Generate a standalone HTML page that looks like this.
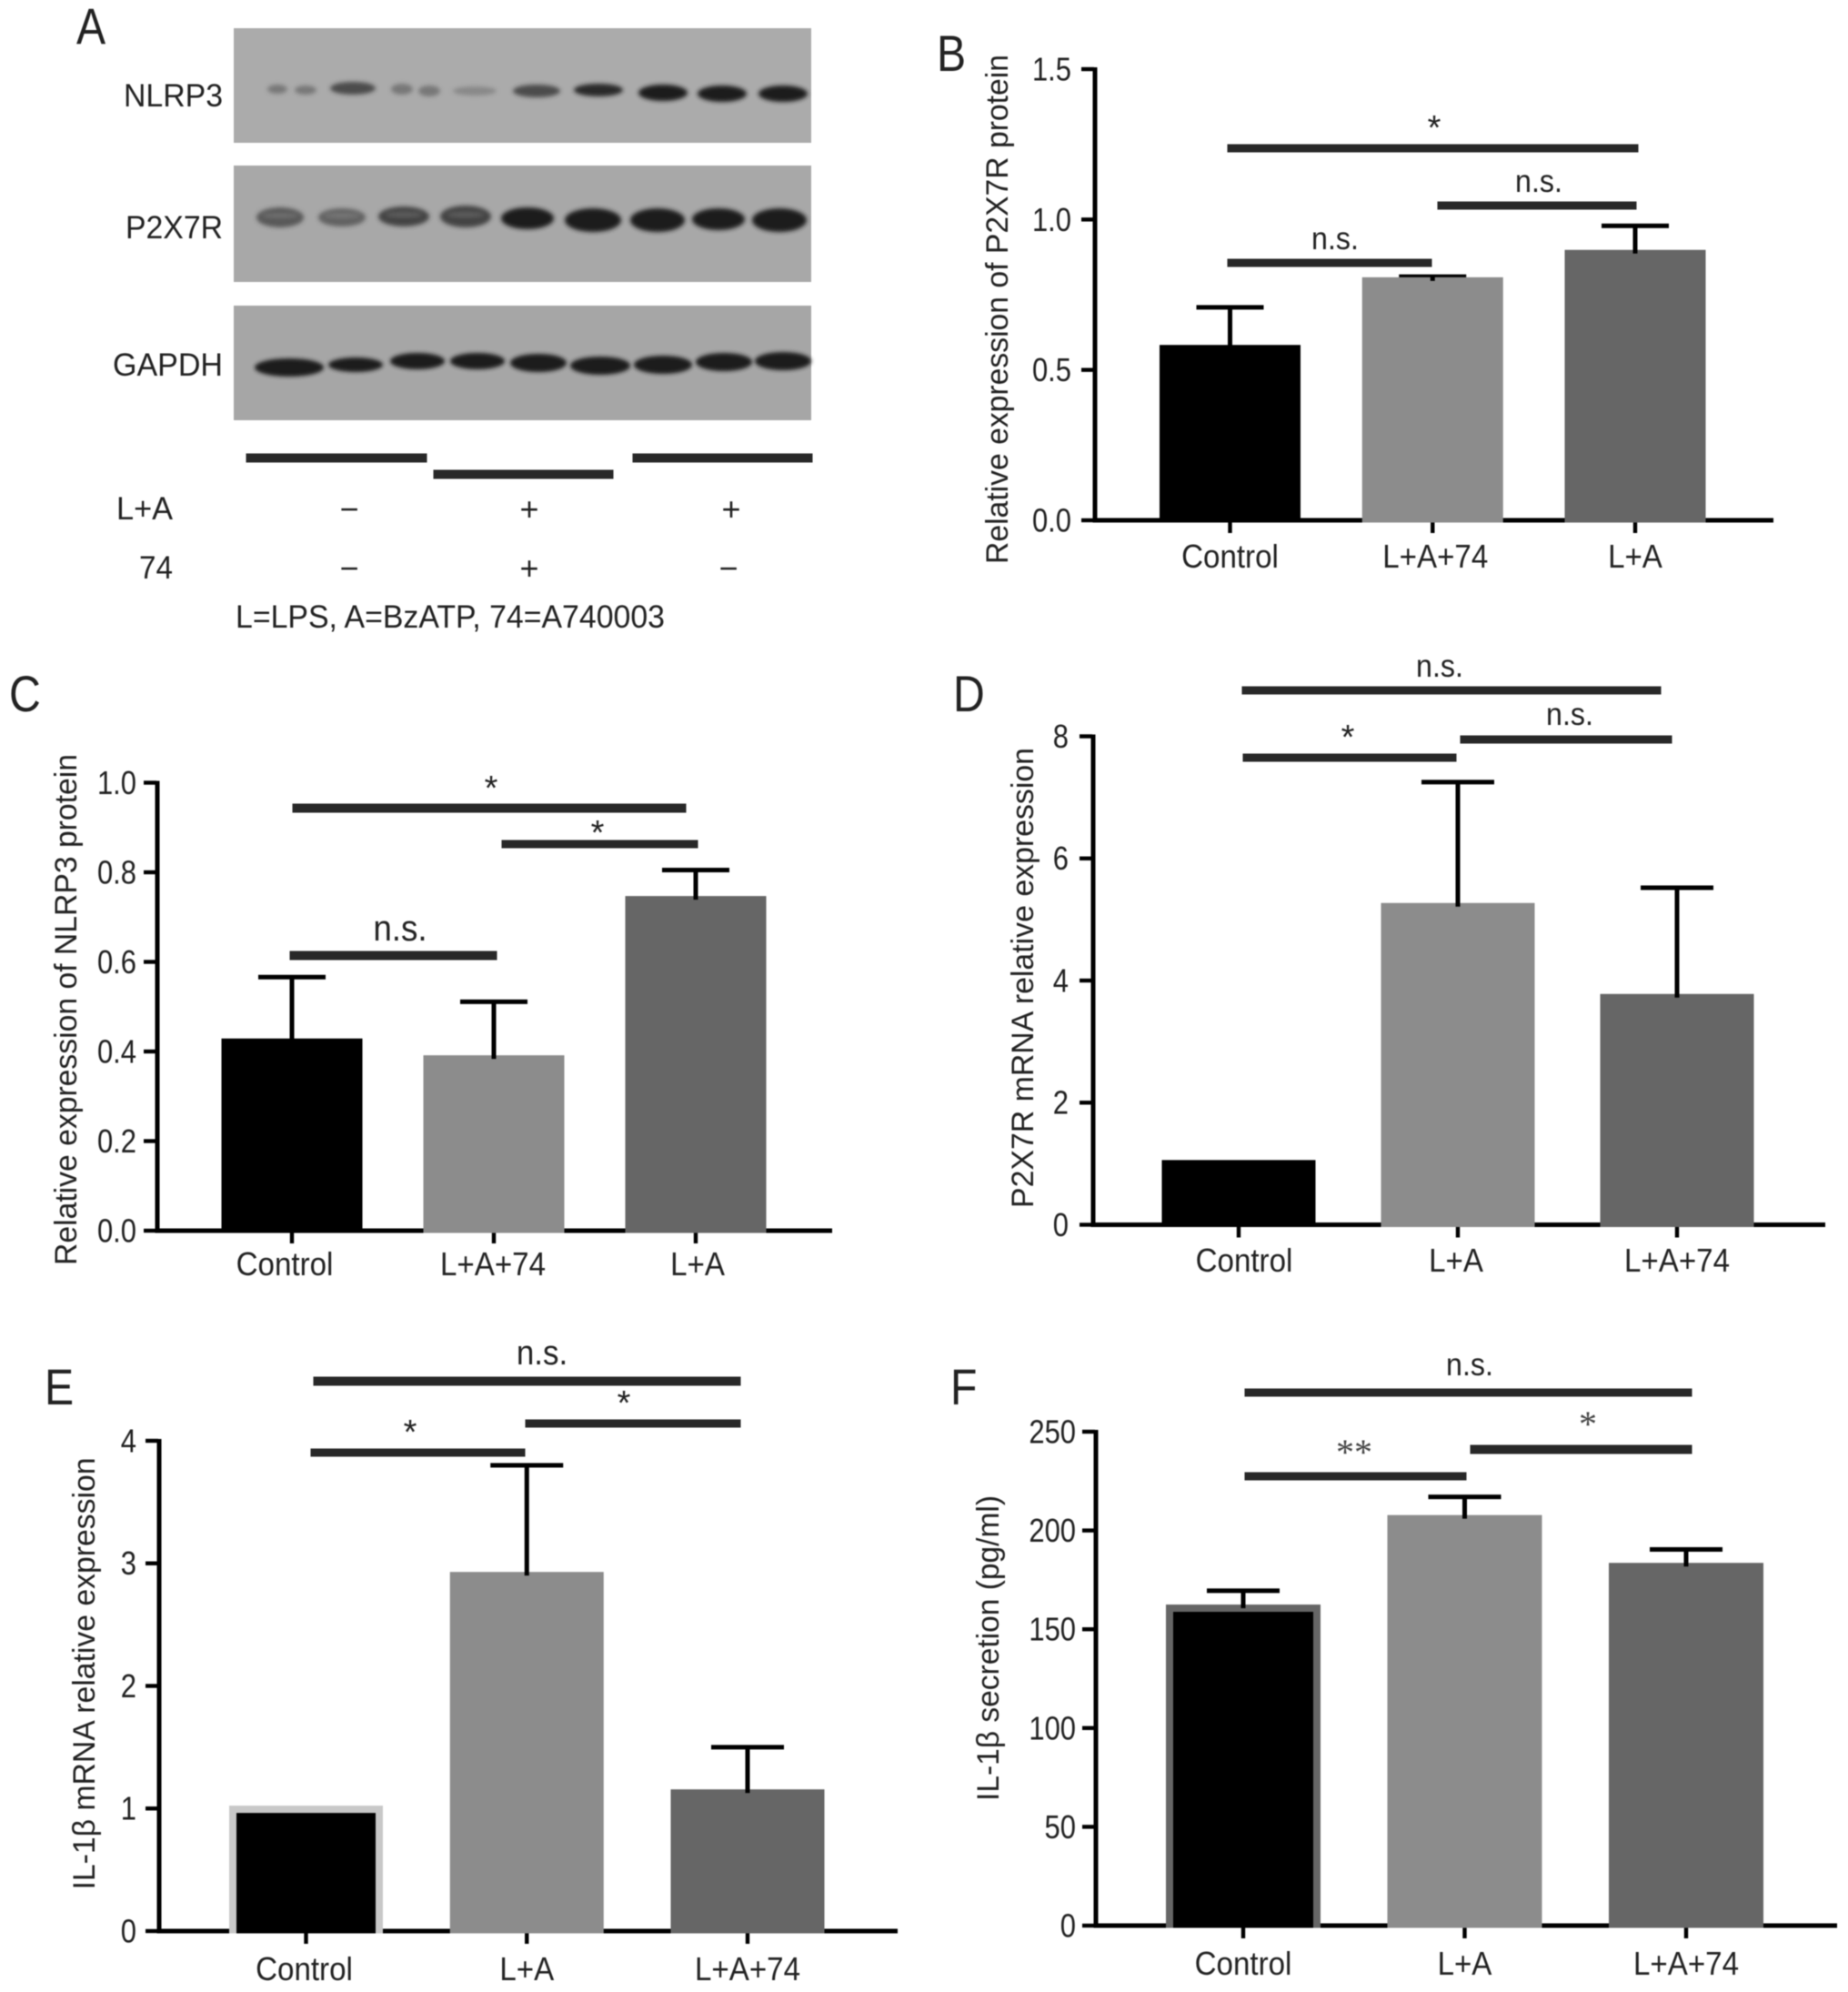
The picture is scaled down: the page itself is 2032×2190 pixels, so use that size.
<!DOCTYPE html>
<html lang="en">
<head>
<meta charset="utf-8">
<title>P2X7R and NLRP3 expression figure</title>
<style>
html,body{margin:0;padding:0;background:#fff;width:2032px;height:2190px;overflow:hidden}
svg{display:block}
#figure{filter:blur(.6px)}
text{font-family:"Liberation Sans",sans-serif;fill:#222}
.sig{fill:#282828;stroke:#282828;stroke-width:1}
.letter{font-size:56px;transform:scaleX(.86);transform-box:fill-box;transform-origin:left center}
.lab{font-size:35px}
.ns{font-size:35px;text-anchor:middle;transform:scaleX(.92);transform-box:fill-box;transform-origin:center}
.star{font-size:38px;text-anchor:middle}
.tick-num{font-size:36px;text-anchor:end;transform:scaleX(.86);transform-box:fill-box;transform-origin:right center}
.cat{font-size:36px;text-anchor:middle;transform:scaleX(.92);transform-box:fill-box;transform-origin:center}
</style>
</head>
<body>
<svg id="figure" xmlns="http://www.w3.org/2000/svg" width="2032" height="2190" viewBox="0 0 2032 2190">
<defs>
<filter id="b3" x="-30%" y="-80%" width="160%" height="260%"><feGaussianBlur stdDeviation="2.5"/></filter>
<filter id="b2" x="-30%" y="-80%" width="160%" height="260%"><feGaussianBlur stdDeviation="2"/></filter>
</defs>
<rect width="2032" height="2190" fill="#fff"/>

<!-- Panel A -->
<g>
<text class="letter" x="84" y="48">A</text>
<rect x="257" y="31" width="635" height="126" fill="#ababab"/>
<rect x="257" y="182" width="635" height="128" fill="#a8a8a8"/>
<rect x="257" y="336" width="635" height="126" fill="#a6a6a6"/>
<g filter="url(#b3)">
<ellipse cx="305" cy="98" rx="11" ry="5" fill="#555" opacity=".6"/>
<ellipse cx="336" cy="99" rx="12" ry="5" fill="#555" opacity=".6"/>
<ellipse cx="388" cy="97" rx="25" ry="7" fill="#333" opacity=".8"/>
<ellipse cx="442" cy="98" rx="12" ry="6" fill="#555" opacity=".6"/>
<ellipse cx="472" cy="100" rx="12" ry="6" fill="#555" opacity=".6"/>
<ellipse cx="522" cy="100" rx="24" ry="5" fill="#666" opacity=".5"/>
<ellipse cx="590" cy="100" rx="26" ry="7" fill="#333" opacity=".8"/>
<ellipse cx="658" cy="99" rx="27" ry="7" fill="#222" opacity=".95"/>
<ellipse cx="729" cy="102" rx="27" ry="9" fill="#1c1c1c"/>
<ellipse cx="794" cy="103" rx="27" ry="9" fill="#1c1c1c"/>
<ellipse cx="861" cy="103" rx="27" ry="9" fill="#1c1c1c"/>
</g>
<g filter="url(#b3)">
<ellipse cx="308" cy="239" rx="26" ry="11" fill="#444" opacity=".8"/>
<ellipse cx="376" cy="239" rx="26" ry="10" fill="#4a4a4a" opacity=".75"/>
<ellipse cx="444" cy="238" rx="28" ry="11" fill="#333" opacity=".85"/>
<ellipse cx="512" cy="238" rx="28" ry="12" fill="#333" opacity=".85"/>
<ellipse cx="580" cy="240" rx="29" ry="12" fill="#1f1f1f"/>
<ellipse cx="652" cy="242" rx="31" ry="13" fill="#1f1f1f"/>
<ellipse cx="723" cy="242" rx="30" ry="13" fill="#1f1f1f"/>
<ellipse cx="790" cy="241" rx="29" ry="12" fill="#1f1f1f"/>
<ellipse cx="857" cy="242" rx="30" ry="13" fill="#1f1f1f"/>
<ellipse cx="308" cy="237" rx="20" ry="2" fill="#aaa" opacity=".35"/>
<ellipse cx="376" cy="237" rx="20" ry="2" fill="#aaa" opacity=".35"/>
<ellipse cx="444" cy="236" rx="20" ry="2" fill="#aaa" opacity=".3"/>
<ellipse cx="512" cy="236" rx="20" ry="2" fill="#aaa" opacity=".3"/>
</g>
<g filter="url(#b2)">
<ellipse cx="318" cy="404" rx="38" ry="10" fill="#1c1c1c"/>
<ellipse cx="391" cy="401" rx="30" ry="8" fill="#1c1c1c"/>
<ellipse cx="459" cy="397" rx="30" ry="9" fill="#1c1c1c"/>
<ellipse cx="525" cy="397" rx="30" ry="9" fill="#1c1c1c"/>
<ellipse cx="592" cy="399" rx="31" ry="10" fill="#1c1c1c"/>
<ellipse cx="660" cy="402" rx="33" ry="10" fill="#1c1c1c"/>
<ellipse cx="729" cy="401" rx="32" ry="10" fill="#1c1c1c"/>
<ellipse cx="796" cy="398" rx="31" ry="10" fill="#1c1c1c"/>
<ellipse cx="861" cy="397" rx="31" ry="10" fill="#1c1c1c"/>
</g>
<text class="lab" x="245" y="117" text-anchor="end" textLength="109" lengthAdjust="spacingAndGlyphs">NLRP3</text>
<text class="lab" x="245" y="262" text-anchor="end" textLength="107" lengthAdjust="spacingAndGlyphs">P2X7R</text>
<text class="lab" x="245" y="413" text-anchor="end" textLength="121" lengthAdjust="spacingAndGlyphs">GAPDH</text>
<rect class="sig" x="271" y="499" width="198" height="9"/>
<rect class="sig" x="477" y="517" width="197" height="9"/>
<rect class="sig" x="696" y="499" width="197" height="9"/>
<text class="lab" x="190" y="571" text-anchor="end" textLength="62" lengthAdjust="spacingAndGlyphs">L+A</text>
<text class="lab" x="190" y="636" text-anchor="end" textLength="37" lengthAdjust="spacingAndGlyphs">74</text>
<g font-size="36" text-anchor="middle">
<text x="384" y="572">−</text><text x="582" y="572">+</text><text x="804" y="572">+</text>
<text x="384" y="637">−</text><text x="582" y="637">+</text><text x="801" y="637">−</text>
</g>
<text class="lab" x="259" y="690" textLength="472" lengthAdjust="spacingAndGlyphs">L=LPS, A=BzATP, 74=A740003</text>
</g>

<!-- Panel letters -->
<text class="letter" x="1030" y="78">B</text>
<text class="letter" x="10" y="782">C</text>
<text class="letter" x="1048" y="782">D</text>
<text class="letter" x="49" y="1544">E</text>
<text class="letter" x="1045" y="1544">F</text>

<!-- Significance brackets -->
<g>
<rect class="sig" x="1350" y="159" width="451" height="8"/>
<rect class="sig" x="1581" y="222" width="218" height="8"/>
<rect class="sig" x="1350" y="285" width="224" height="8"/>
<text class="star" x="1577" y="153">*</text>
<text class="ns" x="1692" y="211">n.s.</text>
<text class="ns" x="1468" y="274">n.s.</text>
</g>
<g>
<rect class="sig" x="322" y="884" width="432" height="9"/>
<rect class="sig" x="552" y="924" width="215" height="8"/>
<rect class="sig" x="319" y="1046" width="227" height="9"/>
<text class="star" x="540" y="879">*</text>
<text class="star" x="657" y="928">*</text>
<text class="ns" x="440" y="1034" style="font-size:40px">n.s.</text>
</g>
<g>
<rect class="sig" x="1366" y="755" width="460" height="8"/>
<rect class="sig" x="1606" y="809" width="232" height="8"/>
<rect class="sig" x="1367" y="829" width="234" height="8"/>
<text class="ns" x="1583" y="744">n.s.</text>
<text class="ns" x="1726" y="797">n.s.</text>
<text class="star" x="1482" y="823">*</text>
</g>
<g>
<rect class="sig" x="345" y="1514" width="469" height="9"/>
<rect class="sig" x="578" y="1561" width="236" height="8"/>
<rect class="sig" x="342" y="1593" width="235" height="8"/>
<text class="ns" x="596" y="1500" style="font-size:38px">n.s.</text>
<text class="star" x="686" y="1555">*</text>
<text class="star" x="451" y="1587">*</text>
</g>
<g>
<rect class="sig" x="1369" y="1527" width="491" height="8"/>
<rect class="sig" x="1617" y="1589" width="243" height="9"/>
<rect class="sig" x="1369" y="1619" width="243" height="8"/>
<text class="ns" x="1616" y="1512">n.s.</text>
<text x="1489" y="1610" font-size="40" text-anchor="middle" style="font-family:'Liberation Serif',serif;fill:#444">**</text>
<text x="1746" y="1579" font-size="40" text-anchor="middle" style="font-family:'Liberation Serif',serif;fill:#444">*</text>
</g>
</svg>

<script>
// Panel B data
const panelBCategories = ["Control", "L+A+74", "L+A"];
const panelBValues = [0.583, 0.808, 0.899];
const panelBUpper = [0.708, 0.81, 0.979];
const panelBTicks = [0, 0.5, 1, 1.5];
const panelBTickLabels = ["0.0", "0.5", "1.0", "1.5"];
// Panel C data
const panelCCategories = ["Control", "L+A+74", "L+A"];
const panelCValues = [0.429, 0.3915, 0.747];
const panelCUpper = [0.566, 0.511, 0.805];
const panelCTicks = [0, 0.2, 0.4, 0.6, 0.8, 1];
const panelCTickLabels = ["0.0", "0.2", "0.4", "0.6", "0.8", "1.0"];
// Panel D data
const panelDCategories = ["Control", "L+A", "L+A+74"];
const panelDValues = [1.06, 5.27, 3.78];
const panelDUpper = [null, 7.25, 5.52];
const panelDTicks = [0, 2, 4, 6, 8];
const panelDTickLabels = ["0", "2", "4", "6", "8"];
// Panel E data
const panelECategories = ["Control", "L+A", "L+A+74"];
const panelEValues = [1.023, 2.93, 1.156];
const panelEUpper = [null, 3.8, 1.5];
const panelETicks = [0, 1, 2, 3, 4];
const panelETickLabels = ["0", "1", "2", "3", "4"];
// Panel F data
const panelFCategories = ["Control", "L+A", "L+A+74"];
const panelFValues = [162.5, 207.8, 183.6];
const panelFUpper = [169.5, 217, 190.4];
const panelFTicks = [0, 50, 100, 150, 200, 250];
const panelFTickLabels = ["0", "50", "100", "150", "200", "250"];

const SVGNS = "http://www.w3.org/2000/svg";
const figure = document.getElementById("figure");
const barColors = ["#000000", "#8c8c8c", "#666666"];

function node(parent, tag, attrs) {
  const el = document.createElementNS(SVGNS, tag);
  for (const k in attrs) el.setAttribute(k, attrs[k]);
  parent.appendChild(el);
  return el;
}

function drawPanel(o) {
  const g = node(figure, "g", {});
  
  
  const maxVal = o.ticks[o.ticks.length - 1];
  const y = v => o.y0 + (o.yTop - o.y0) * (v / maxVal);
  const x = i => o.x0 + o.dx * i;

  const yAxis = node(g, "rect", {x: o.axisX - 2.5, y: y(maxVal) - 2, width: 5, height: o.y0 - y(maxVal) + 4, fill: "#000"});
  
  
  const xAxis = node(g, "rect", {x: o.axisX - 2.5, y: o.y0 - 2.5, width: o.right - o.axisX + 2.5, height: 5, fill: "#000"});
  
  

  o.ticks.forEach((t, i) => {
    const mark = node(g, "rect", {x: o.axisX - 15, y: y(t) - 2.2, width: 14, height: 4.4, fill: "#000"});
    
    
    const label = node(g, "text", {x: o.tickRight, y: y(t) + 12.5, "class": "tick-num"});
    label.textContent = o.tickLabels[i];
    
    
  });

  o.categories.forEach((c, i) => {
    const cx = x(i);
    const top = y(o.values[i]);
    const left = cx + o.barOffset[i] - o.barW / 2;
    const tick = node(g, "rect", {x: cx - 2.2, y: o.y0, width: 4.4, height: 14, fill: "#000"});
    
    
    if (o.upper[i] !== null) {
      const cap = y(o.upper[i]);
      const capMark = node(g, "rect", {x: cx - o.capW / 2, y: cap - 2.5, width: o.capW, height: 5, fill: "#000"});
      
      
    }
    const bar = node(g, "rect", {x: left, y: top, width: o.barW, height: o.y0 + 2.5 - top, fill: i === 0 && o.border ? o.border : barColors[i]});
    
    
    if (i === 0 && o.border) {
      const inner = node(g, "rect", {x: left + 8, y: top + 8, width: o.barW - 16, height: o.y0 + 2.5 - top - 8, fill: barColors[0]});
      
      
    }
    if (o.upper[i] !== null) {
      const cap = y(o.upper[i]);
      const stem = node(g, "rect", {x: cx - 2.5, y: cap, width: 5, height: top + 4 - cap, fill: "#000"});
      
      
    }
    const lab = node(g, "text", {x: cx + o.labelOffset[i], y: o.labelY, "class": "cat"});
    lab.textContent = c;
    
    
  });

  const title = node(g, "text", {
    x: o.titleX, y: o.titleY, "text-anchor": "middle", "font-size": 34,
    transform: "rotate(-90 " + o.titleX + " " + o.titleY + ")",
    textLength: o.titleLen, lengthAdjust: "spacingAndGlyphs"
  });
  title.textContent = o.title;
  
  
}

drawPanel({name: "panel-b", categories: panelBCategories, values: panelBValues, upper: panelBUpper, ticks: panelBTicks, tickLabels: panelBTickLabels,
  axisX: 1204, y0: 572, yTop: 76, right: 1950, x0: 1352.5, dx: 222.75, barW: 155, capW: 74, tickRight: 1178,
  barOffset: [0, 0, 0], labelOffset: [0, 3, 0], labelY: 624,
  title: "Relative expression of P2X7R protein", titleX: 1108, titleY: 340, titleLen: 560});
drawPanel({name: "panel-c", categories: panelCCategories, values: panelCValues, upper: panelCUpper, ticks: panelCTicks, tickLabels: panelCTickLabels,
  axisX: 173, y0: 1353, yTop: 860.5, right: 915, x0: 321, dx: 222, barW: 155, capW: 74, tickRight: 150,
  barOffset: [0, 0, 0], labelOffset: [-8, -1, 2], labelY: 1402,
  title: "Relative expression of NLRP3 protein", titleX: 84, titleY: 1110, titleLen: 562});
drawPanel({name: "panel-d", categories: panelDCategories, values: panelDValues, upper: panelDUpper, ticks: panelDTicks, tickLabels: panelDTickLabels,
  axisX: 1202, y0: 1346.5, yTop: 809.5, right: 2007, x0: 1362, dx: 241, barW: 169, capW: 80, tickRight: 1175,
  barOffset: [0, 0, 0], labelOffset: [6, -2, 0], labelY: 1398,
  title: "P2X7R mRNA relative expression", titleX: 1136, titleY: 1075, titleLen: 506});
drawPanel({name: "panel-e", categories: panelECategories, values: panelEValues, upper: panelEUpper, ticks: panelETicks, tickLabels: panelETickLabels,
  axisX: 175, y0: 2123, yTop: 1584, right: 987, x0: 336.5, dx: 242.75, barW: 169, capW: 80, tickRight: 150,
  barOffset: [0, 0, 0], labelOffset: [-2, 0, 0], labelY: 2177, border: "#c8c8c8",
  title: "IL-1β mRNA relative expression", titleX: 104, titleY: 1840, titleLen: 475});
drawPanel({name: "panel-f", categories: panelFCategories, values: panelFValues, upper: panelFUpper, ticks: panelFTicks, tickLabels: panelFTickLabels,
  axisX: 1205, y0: 2117, yTop: 1574, right: 2020, x0: 1367, dx: 243.5, barW: 170, capW: 80, tickRight: 1183,
  barOffset: [0, 0, 0], labelOffset: [0, 0, 0], labelY: 2171, border: "#666666",
  title: "IL-1β secretion (pg/ml)", titleX: 1098, titleY: 1812, titleLen: 336});
</script>
</body>
</html>
